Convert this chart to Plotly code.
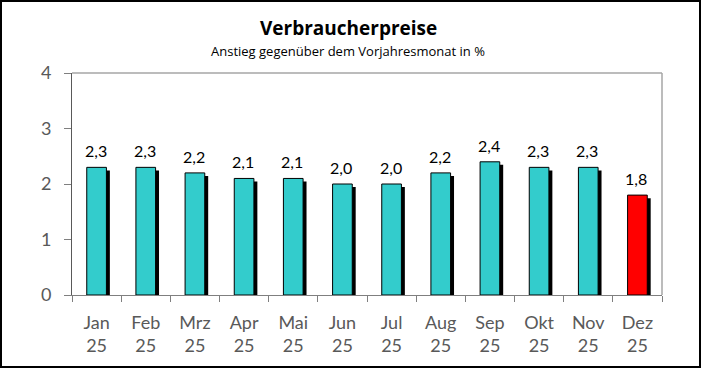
import plotly.graph_objects as go

months = ["Jan", "Feb", "Mrz", "Apr", "Mai", "Jun", "Jul", "Aug", "Sep", "Okt", "Nov", "Dez"]
years = ["25"] * 12
values = [2.3, 2.3, 2.2, 2.1, 2.1, 2.0, 2.0, 2.2, 2.4, 2.3, 2.3, 1.8]
colors = ["#33CCCC"] * 11 + ["#FF0000"]

cats = [f"{m}<br>{y}" for m, y in zip(months, years)]
labels = [f"{v:.1f}".replace(".", ",") for v in values]

FONT = "Lato"
TFONT = "Open Sans"
W, H = 702, 369
L, R, T, B = 72, 40, 73, 74
pw, ph = W - L - R, H - T - B

fig = go.Figure()
# shadow
fig.add_trace(go.Bar(
    x=cats, y=[v - 0.055 for v in values], width=0.4, offset=-0.13,
    marker=dict(color="black", line=dict(width=0)), hoverinfo="skip", showlegend=False,
))
fig.add_trace(go.Bar(
    x=cats, y=values, width=0.4, offset=-0.2,
    marker=dict(color=colors, line=dict(color="black", width=1)),
    showlegend=False,
))

annotations = [
    dict(x=c, y=v, text=t, xref="x", yref="y", xanchor="center", yanchor="bottom",
         xshift=-1, yshift=5, showarrow=False, font=dict(family=FONT, size=16, color="black"))
    for c, v, t in zip(cats, values, labels)
]
annotations += [
    dict(text="<b>Verbraucherpreise</b>", xref="paper", yref="paper",
         x=(348 - L) / pw, y=(H - B - 28.5) / ph, xanchor="center", yanchor="middle",
         showarrow=False, font=dict(family=TFONT, size=19, color="black")),
    dict(text="Anstieg gegenüber dem Vorjahresmonat in %", xref="paper", yref="paper",
         x=(348 - L) / pw, y=(H - B - 50.5) / ph, xanchor="center", yanchor="middle",
         showarrow=False, font=dict(family=TFONT, size=13, color="black")),
]

fig.update_layout(
    width=W, height=H, barmode="overlay",
    margin=dict(l=L, r=R, t=T, b=B),
    paper_bgcolor="white", plot_bgcolor="white",
    font=dict(family=FONT),
    xaxis=dict(
        showline=True, linecolor="#7f7f7f", linewidth=1,
        ticks="outside", tickson="boundaries", ticklen=6, tickcolor="#7f7f7f",
        ticklabelstandoff=11,
        tickfont=dict(family=FONT, size=18, color="#595959"), showgrid=False,
    ),
    yaxis=dict(
        range=[0, 4], dtick=1, showline=True, linecolor="#595959", linewidth=1,
        ticks="outside", ticklen=7, tickcolor="#7f7f7f", showgrid=False, zeroline=False,
        ticklabelstandoff=9,
        tickfont=dict(family=FONT, size=18, color="#595959"),
    ),
    annotations=annotations,
    shapes=[
        dict(type="line", xref="paper", yref="paper", x0=0, x1=1, y0=1, y1=1,
             line=dict(color="#a6a6a6", width=1.5)),
        dict(type="line", xref="paper", yref="paper", x0=1, x1=1, y0=0, y1=1,
             line=dict(color="#a6a6a6", width=1.5)),
        dict(type="rect", xref="paper", yref="paper",
             x0=(1 - L) / pw, x1=(W - 2 - L) / pw, y0=-(B - 2) / ph, y1=(H - B - 1) / ph,
             line=dict(color="black", width=2)),
    ],
)

fig.write_html("out.html", config={"displayModeBar": False},
               post_script="document.body.style.margin='0';")
